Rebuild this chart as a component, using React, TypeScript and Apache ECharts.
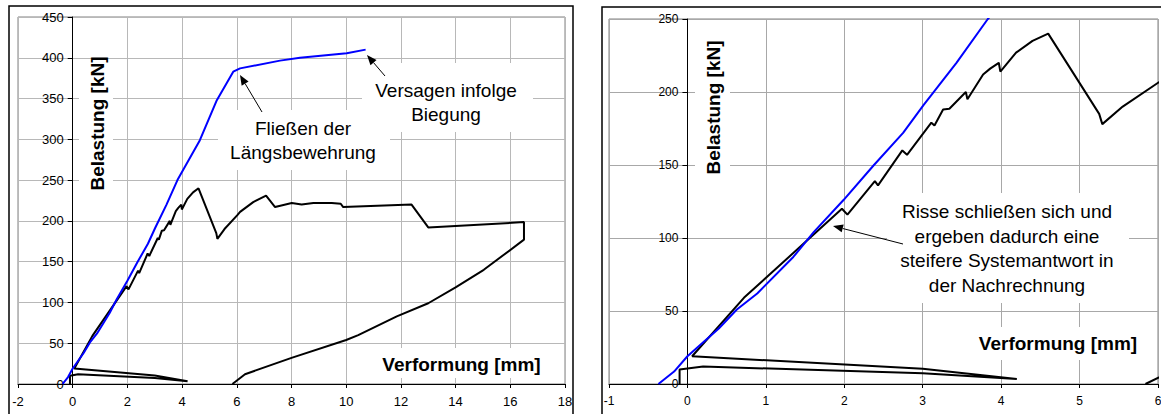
import React, { useEffect, useRef } from "react";
import * as echarts from "echarts";

// ---- data (deformation [mm], load [kN]) ----
const measured: [number, number][] = [
  [-0.1, 0], [-0.1, 10], [0.2, 12], [3, 7.3], [4.2, 3.5], [3, 10.5], [0.06, 19],
  [0.72, 59], [1.97, 120], [2.04, 116], [2.39, 139], [2.43, 136], [2.74, 160],
  [2.8, 157], [3.11, 179], [3.15, 177], [3.26, 188], [3.34, 188.5], [3.55, 200],
  [3.57, 195], [3.77, 212], [3.86, 216], [3.97, 220], [3.99, 214], [4.19, 227],
  [4.4, 235], [4.6, 240], [5.25, 185], [5.29, 178], [5.55, 190], [6.02, 207],
  [6.12, 211], [6.6, 223], [7.07, 231], [7.4, 217], [8.01, 222], [8.37, 220],
  [8.8, 222], [9.47, 222], [9.8, 221], [9.89, 217], [12.39, 220], [13.0, 192],
  [16.5, 198.5], [16.5, 177], [15.03, 140], [14.0, 118.5], [13.0, 99],
  [11.85, 83], [10.44, 60], [10.0, 54], [8.0, 32], [6.3, 12], [5.84, 0],
];

const calculated: [number, number][] = [
  [-0.37, 0], [-0.17, 8.5], [0, 19], [0.4, 38], [0.63, 51], [0.89, 62],
  [1.35, 87], [1.61, 104], [1.99, 126], [2.37, 149.5], [2.75, 172], [3.01, 191],
  [3.43, 220], [3.83, 250], [4.65, 299], [5.27, 348], [5.87, 383], [6.12, 387],
  [7.58, 396.5], [8.31, 400], [10.02, 405.5], [10.71, 410],
];

const leftXRange = [-2, 18, 2];
const leftYRange = [0, 450, 50];
const rightXRange = [-1, 6, 1];
const rightYRange = [0, 250, 50];

const yTitle = "Belastung [kN]";
const xTitle = "Verformung [mm]";
const noteYield = "Fließen der\nLängsbewehrung";
const noteFailure = "Versagen infolge\nBiegung";
const noteCracks =
  "Risse schließen sich und\nergeben dadurch eine\nsteifere Systemantwort in\nder Nachrechnung";

const FONT = "'Liberation Sans', Arial, Helvetica, sans-serif";

const leftGrid = { left: 18, top: 17, width: 547, height: 367 };
const rightGrid = { left: 609, top: 19, width: 549, height: 365 };

function whiteBox(x: number, y: number, w: number, h: number) {
  return {
    type: "rect",
    z: 1,
    silent: true,
    shape: { x, y, width: w, height: h },
    style: { fill: "#fff", stroke: "none" },
  };
}

function label(x: number, y: number, text: string, opts: any = {}) {
  return {
    type: "text",
    z: 2,
    silent: true,
    x,
    y,
    rotation: opts.rotation || 0,
    style: {
      text,
      fill: "#000",
      fontFamily: FONT,
      fontSize: opts.fontSize || 19,
      fontWeight: opts.bold ? "bold" : "normal",
      align: "center",
      verticalAlign: "middle",
      lineHeight: opts.lineHeight || 24,
    },
  };
}

function arrow(x1: number, y1: number, x2: number, y2: number) {
  const dx = x2 - x1;
  const dy = y2 - y1;
  const len = Math.sqrt(dx * dx + dy * dy);
  const ux = dx / len;
  const uy = dy / len;
  const hl = 10;
  const hw = 4;
  const bx = x2 - hl * ux;
  const by = y2 - hl * uy;
  const nx = -uy;
  const ny = ux;
  return [
    {
      type: "line",
      z: 4,
      silent: true,
      shape: { x1, y1, x2: bx, y2: by },
      style: { stroke: "#000", lineWidth: 1 },
    },
    {
      type: "polygon",
      z: 4,
      silent: true,
      shape: {
        points: [
          [x2, y2],
          [bx + hw * nx, by + hw * ny],
          [bx - hw * nx, by - hw * ny],
        ],
      },
      style: { fill: "#000", stroke: "none" },
    },
  ];
}

function xAxisCfg(gridIndex: number, r: number[], fontSize: number, gridColor: string) {
  return {
    type: "value",
    gridIndex,
    min: r[0],
    max: r[1],
    interval: r[2],
    axisLine: { show: true, onZero: false, lineStyle: { color: "#000", width: 1 } },
    axisTick: { show: true, length: 4, lineStyle: { color: "#000" } },
    axisLabel: { color: "#000", fontSize, fontFamily: FONT, margin: 11 },
    splitLine: { show: true, lineStyle: { color: gridColor, width: 1 } },
  };
}

// y axis drawn at x = 0 of the x range: shift it into the plot with a negative offset
function yAxisCfg(
  gridIndex: number,
  r: number[],
  xr: number[],
  gridWidth: number,
  fontSize: number,
  gridColor: string
) {
  const zeroOffset = ((0 - xr[0]) / (xr[1] - xr[0])) * gridWidth;
  return {
    type: "value",
    gridIndex,
    min: r[0],
    max: r[1],
    interval: r[2],
    offset: -zeroOffset,
    axisLine: { show: true, onZero: false, lineStyle: { color: "#000", width: 1 } },
    axisTick: { show: true, length: 5, lineStyle: { color: "#000" } },
    axisLabel: { color: "#000", fontSize, fontFamily: FONT, margin: 9 },
    splitLine: { show: true, lineStyle: { color: gridColor, width: 1 } },
  };
}

export default function App() {
  const ref = useRef<HTMLDivElement>(null);

  useEffect(() => {
    if (!ref.current) return;
    const chart = echarts.init(ref.current, undefined, { renderer: "svg" });

    const graphic: any[] = [
      // outer chart frames
      {
        type: "rect", z: 5, silent: true,
        shape: { x: 9, y: 6, width: 564, height: 440 },
        style: { fill: "none", stroke: "#000", lineWidth: 1.5 },
      },
      {
        type: "rect", z: 5, silent: true,
        shape: { x: 602, y: 7, width: 640, height: 440 },
        style: { fill: "none", stroke: "#000", lineWidth: 1.5 },
      },
      // left panel
      whiteBox(79, 60, 34, 136),
      label(97, 123.5, yTitle, { bold: true, rotation: Math.PI / 2 }),
      whiteBox(370, 348, 183, 30),
      label(461.5, 364, xTitle, { bold: true }),
      whiteBox(218, 110, 172, 60),
      label(303, 140.5, noteYield),
      whiteBox(362, 63, 171, 69),
      label(446, 102.5, noteFailure),
      ...arrow(262, 112, 240, 75),
      ...arrow(385, 76, 367, 55),
      // right panel
      whiteBox(695, 36, 35, 144),
      label(713, 107.5, yTitle, { bold: true, rotation: Math.PI / 2 }),
      whiteBox(968, 327, 180, 33),
      label(1058, 343, xTitle, { bold: true }),
      whiteBox(887, 193, 242, 110),
      label(1007, 248.5, noteCracks, { lineHeight: 24.5 }),
      ...arrow(903, 244, 833, 226),
    ];

    chart.setOption({
      animation: false,
      backgroundColor: "#fff",
      textStyle: { fontFamily: FONT },
      grid: [
        {
          ...leftGrid,
          show: true, borderColor: "#808080", borderWidth: 1,
          backgroundColor: "transparent", containLabel: false, outerBoundsMode: "none",
        },
        {
          ...rightGrid,
          show: true, borderColor: "#808080", borderWidth: 1,
          backgroundColor: "transparent", containLabel: false, outerBoundsMode: "none",
        },
      ],
      xAxis: [
        xAxisCfg(0, leftXRange, 13, "#b8b8b8"),
        xAxisCfg(1, rightXRange, 12, "#a8a8a8"),
      ],
      yAxis: [
        yAxisCfg(0, leftYRange, leftXRange, leftGrid.width, 13, "#b8b8b8"),
        yAxisCfg(1, rightYRange, rightXRange, rightGrid.width, 12, "#a8a8a8"),
      ],
      series: [
        {
          type: "line", xAxisIndex: 0, yAxisIndex: 0, data: measured,
          symbol: "none", showSymbol: false, clip: true, z: 3,
          lineStyle: { color: "#000", width: 2 },
        },
        {
          type: "line", xAxisIndex: 0, yAxisIndex: 0, data: calculated,
          symbol: "none", showSymbol: false, clip: true, z: 3,
          lineStyle: { color: "#0000ff", width: 2 },
        },
        {
          type: "line", xAxisIndex: 1, yAxisIndex: 1, data: measured,
          symbol: "none", showSymbol: false, clip: true, z: 3,
          lineStyle: { color: "#000", width: 2 },
        },
        {
          type: "line", xAxisIndex: 1, yAxisIndex: 1, data: calculated,
          symbol: "none", showSymbol: false, clip: true, z: 3,
          lineStyle: { color: "#0000ff", width: 2 },
        },
      ],
      graphic,
    });

    return () => chart.dispose();
  }, []);

  return (
    <div
      ref={ref}
      style={{ position: "absolute", left: 0, top: 0, width: 1161, height: 414, background: "#fff" }}
    />
  );
}
